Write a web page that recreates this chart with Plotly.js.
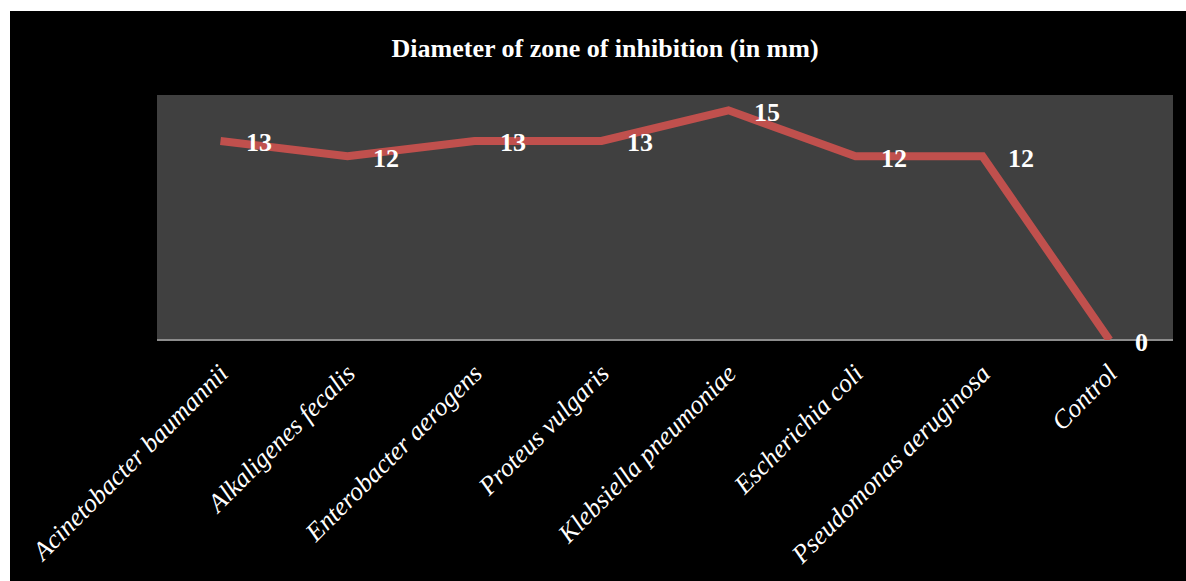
<!DOCTYPE html>
<html>
<head>
<meta charset="utf-8">
<script src="https://cdn.plot.ly/plotly-3.0.1.min.js"></script>
<style>
html,body{margin:0;padding:0;background:#ffffff;width:1186px;height:581px;overflow:hidden;}
#chart{position:absolute;left:10px;top:11px;width:1176px;height:570px;}
</style>
</head>
<body>
<div id="chart"></div>
<script>
const categories = ["Acinetobacter baumannii","Alkaligenes fecalis","Enterobacter aerogens","Proteus vulgaris","Klebsiella pneumoniae","Escherichia coli","Pseudomonas aeruginosa","Control"];
const values = [13, 12, 13, 13, 15, 12, 12, 0];
const chartTitle = "Diameter of zone of inhibition (in mm)";

const trace = {
  x: categories,
  y: values,
  type: 'scatter',
  mode: 'lines',
  line: {color: '#C0504D', width: 8},
  hoverinfo: 'none',
  cliponaxis: false
};

const annotations = categories.map((c, i) => ({
  x: c, y: values[i], xref: 'x', yref: 'y',
  text: String(values[i]), showarrow: false,
  xanchor: 'left', yanchor: 'middle', xshift: 23, yshift: -2,
  font: {family: 'Liberation Serif, Times New Roman, serif', size: 26, color: '#ffffff', weight: 'bold'}
}));

const layout = {
  width: 1176, height: 570,
  paper_bgcolor: '#000000',
  plot_bgcolor: '#404040',
  margin: {l: 147, r: 13, t: 84, b: 241},
  title: {
    text: '<b>' + chartTitle + '</b>',
    x: 0.506, xanchor: 'center', xref: 'container',
    y: 1 - 37/570, yanchor: 'middle', yref: 'container',
    font: {family: 'Liberation Serif, Times New Roman, serif', size: 26, color: '#ffffff'}
  },
  showlegend: false,
  xaxis: {
    type: 'category',
    range: [-0.5, 7.5],
    showgrid: false, zeroline: false,
    showline: false,
    ticks: '',
    tickangle: -45,
    ticklabelstandoff: 12,
    tickfont: {family: 'Liberation Serif, Times New Roman, serif', size: 26, color: '#ffffff', style: 'italic'},
    fixedrange: true
  },
  yaxis: {
    range: [0, 16],
    showgrid: false, zeroline: true, zerolinecolor: '#8c8c8c', zerolinewidth: 2,
    showticklabels: false, showline: false, ticks: '',
    fixedrange: true
  },
  annotations: annotations
};

Plotly.newPlot('chart', [trace], layout, {displayModeBar: false, staticPlot: true});
</script>
</body>
</html>
